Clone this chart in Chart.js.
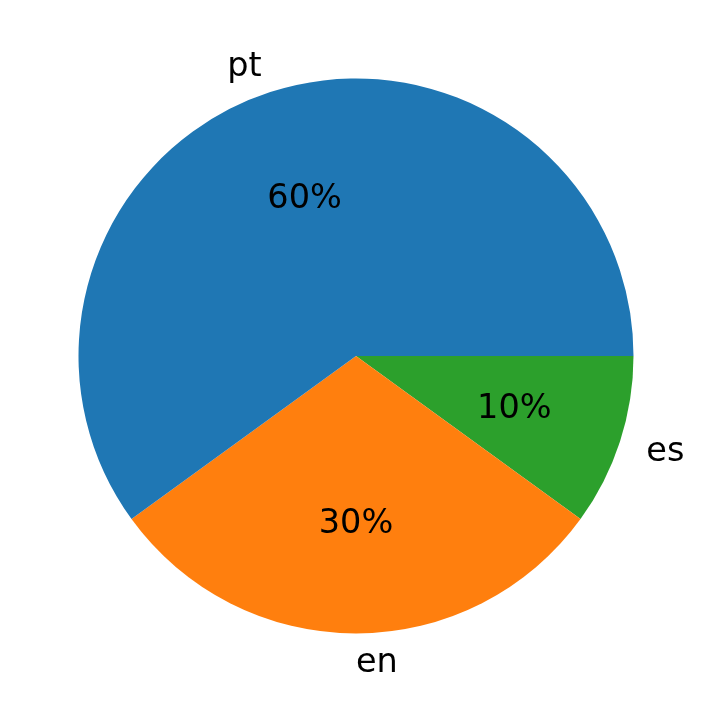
<!DOCTYPE html>
<html>
<head>
<meta charset="utf-8">
<script src="https://cdn.jsdelivr.net/npm/chart.js@4/dist/chart.umd.min.js"></script>
<style>
  html, body { margin: 0; padding: 0; background: #fff; }
  #wrap { width: 712px; height: 713px; position: relative; }
</style>
</head>
<body>
<div id="wrap"><canvas id="chart"></canvas></div>
<script>
// slices listed clockwise from 3 o'clock (matplotlib draws them counter-clockwise)
const languages = ['es', 'en', 'pt'];
const shares = [10, 30, 60];
const sliceColors = ['#2ca02c', '#ff7f0e', '#1f77b4'];

const pieLabels = {
    id: 'pieLabels',
    afterDraw(chart) {
        const ctx = chart.ctx;
        const arcs = chart.getDatasetMeta(0).data;
        const total = shares.reduce((a, b) => a + b, 0);
        const dy = 2; // matplotlib centres on the full text box, a bit lower than 'middle'
        ctx.save();
        ctx.font = '33.5px "DejaVu Sans"';
        ctx.fillStyle = '#000';
        ctx.textBaseline = 'middle';
        arcs.forEach((arc, i) => {
            const mid = (arc.startAngle + arc.endAngle) / 2;
            const r = arc.outerRadius;
            const cx = Math.cos(mid), cy = Math.sin(mid);
            // percentage inside at 0.6 r
            ctx.textAlign = 'center';
            ctx.fillText(Math.round(shares[i] / total * 100) + '%', arc.x + cx * r * 0.6, arc.y + cy * r * 0.6 + dy);
            // category label outside at 1.1 r
            ctx.textAlign = cx < -1e-6 ? 'right' : 'left';
            ctx.fillText(languages[i], arc.x + cx * r * 1.1, arc.y + cy * r * 1.1 + dy);
        });
        ctx.restore();
    }
};

new Chart(document.getElementById('chart'), {
    type: 'pie',
    data: {
        labels: languages,
        datasets: [{
            data: shares,
            backgroundColor: sliceColors,
            borderWidth: 0,
        }]
    },
    options: {
        responsive: true,
        maintainAspectRatio: false,
        animation: false,
        rotation: 90,
        layout: { padding: { left: 78.5, right: 78.5, top: 78.5, bottom: 79.5 } },
        plugins: {
            legend: { display: false },
            tooltip: { enabled: false },
        }
    },
    plugins: [pieLabels],
});
</script>
</body>
</html>
